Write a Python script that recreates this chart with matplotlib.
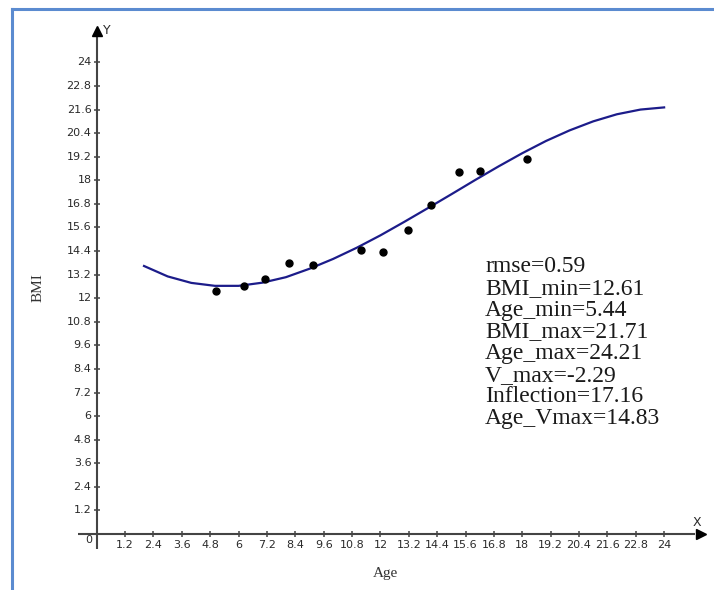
import matplotlib
matplotlib.use('Agg')
import matplotlib.pyplot as plt
from matplotlib.lines import Line2D

# observed data points
ages = [5.05, 6.24, 7.13, 8.15, 9.13, 11.17, 12.12, 13.18, 14.14, 15.31, 16.21, 18.21]
bmi = [12.37, 12.62, 12.96, 13.81, 13.71, 14.45, 14.35, 15.47, 16.73, 18.44, 18.49, 19.10]

# fitted curve
fit_age = [2, 3, 4, 5, 6, 7, 8, 9, 10, 11, 12, 13, 14, 15, 16, 17, 18, 19, 20, 21, 22, 23, 24]
fit_bmi = [13.64, 13.11, 12.78, 12.63, 12.63, 12.79, 13.07, 13.50, 14.00, 14.57, 15.20,
           15.88, 16.58, 17.29, 18.01, 18.71, 19.38, 20.00, 20.54, 21.00, 21.36, 21.60, 21.71]

x_ticks = [1.2, 2.4, 3.6, 4.8, 6, 7.2, 8.4, 9.6, 10.8, 12, 13.2, 14.4, 15.6, 16.8,
           18, 19.2, 20.4, 21.6, 22.8, 24]
y_ticks = [1.2, 2.4, 3.6, 4.8, 6, 7.2, 8.4, 9.6, 10.8, 12, 13.2, 14.4, 15.6, 16.8,
           18, 19.2, 20.4, 21.6, 22.8, 24]

stats = ["rmse=0.59", "BMI_min=12.61", "Age_min=5.44", "BMI_max=21.71",
         "Age_max=24.21", "V_max=-2.29", "Inflection=17.16", "Age_Vmax=14.83"]

W, H = 714, 590
fig = plt.figure(figsize=(W / 100, H / 100), dpi=100)
fig.patch.set_facecolor('white')
ax = fig.add_axes([73.1 / W, 1 - 553.7 / H, 638.3 / W, 530.6 / H])
ax.set_xlim(-1, 26)
ax.set_ylim(-1, 26)
ax.axis('off')

axis_color = '#444444'
tick_font = dict(family='DejaVu Sans', fontsize=8, color='#2a2a2a')

# axes lines with arrows
ax.plot([-0.8, 25.3], [0, 0], color=axis_color, lw=1.5, solid_capstyle='butt')
ax.plot([0, 0], [-0.75, 25.3], color=axis_color, lw=1.5, solid_capstyle='butt')
ax.plot([25.55], [0], marker='>', ms=7, color='black', ls='none')
ax.plot([0], [25.6], marker='^', ms=7, color='black', ls='none')

# ticks
ax.plot(x_ticks, [0] * len(x_ticks), ls='none', marker='|', ms=5, mew=1.1, color=axis_color)
ax.plot([0] * len(y_ticks), y_ticks, ls='none', marker='_', ms=5, mew=1.1, color=axis_color)

for v in x_ticks:
    ax.annotate(f"{v:g}", (v, 0), xytext=(0, -4.0), textcoords='offset points',
                ha='center', va='top', **tick_font)
for v in y_ticks:
    ax.annotate(f"{v:g}", (0, v), xytext=(-3.8, 0), textcoords='offset points',
                ha='right', va='center', **tick_font)
ax.annotate("0", (0, 0), xytext=(-3.4, -4.4), textcoords='offset points',
            ha='right', va='center', **tick_font)
ax.annotate("Y", (0, 25.6), xytext=(4.5, 0), textcoords='offset points',
            ha='left', va='center', family='DejaVu Sans', fontsize=9, color='#2a2a2a')
ax.annotate("X", (25.4, 0), xytext=(0, 8), textcoords='offset points',
            ha='center', va='center', family='DejaVu Sans', fontsize=9, color='#2a2a2a')

# fitted curve and points
ax.plot(fit_age, fit_bmi, color='#1c1c8a', lw=1.6)
ax.plot(ages, bmi, ls='none', marker='o', ms=5, color='black')

# axis titles
fig.text(385 / W, 1 - 573 / H, "Age", family='Liberation Serif', fontsize=11,
         ha='center', va='center', color='#333333')
fig.text(38 / W, 1 - 288 / H, "BMI", family='Liberation Serif', fontsize=11,
         ha='center', va='center', rotation=90, color='#333333')

# statistics block
for i, s in enumerate(stats):
    fig.text(485 / W, 1 - (266.7 + i * 21.7) / H, s, family='Liberation Serif',
             fontsize=17, ha='left', va='center', color='#1a1a1a')

# blue frame (left and top edges visible)
frame_color = '#5b8bd0'
fig.add_artist(Line2D([12.3 / W, 12.3 / W], [0, 1 - 9 / H], transform=fig.transFigure,
                      color=frame_color, lw=2.2))
fig.add_artist(Line2D([12.3 / W, 1], [1 - 9 / H, 1 - 9 / H], transform=fig.transFigure,
                      color=frame_color, lw=2.2))

fig.savefig('out.png', dpi=100)
